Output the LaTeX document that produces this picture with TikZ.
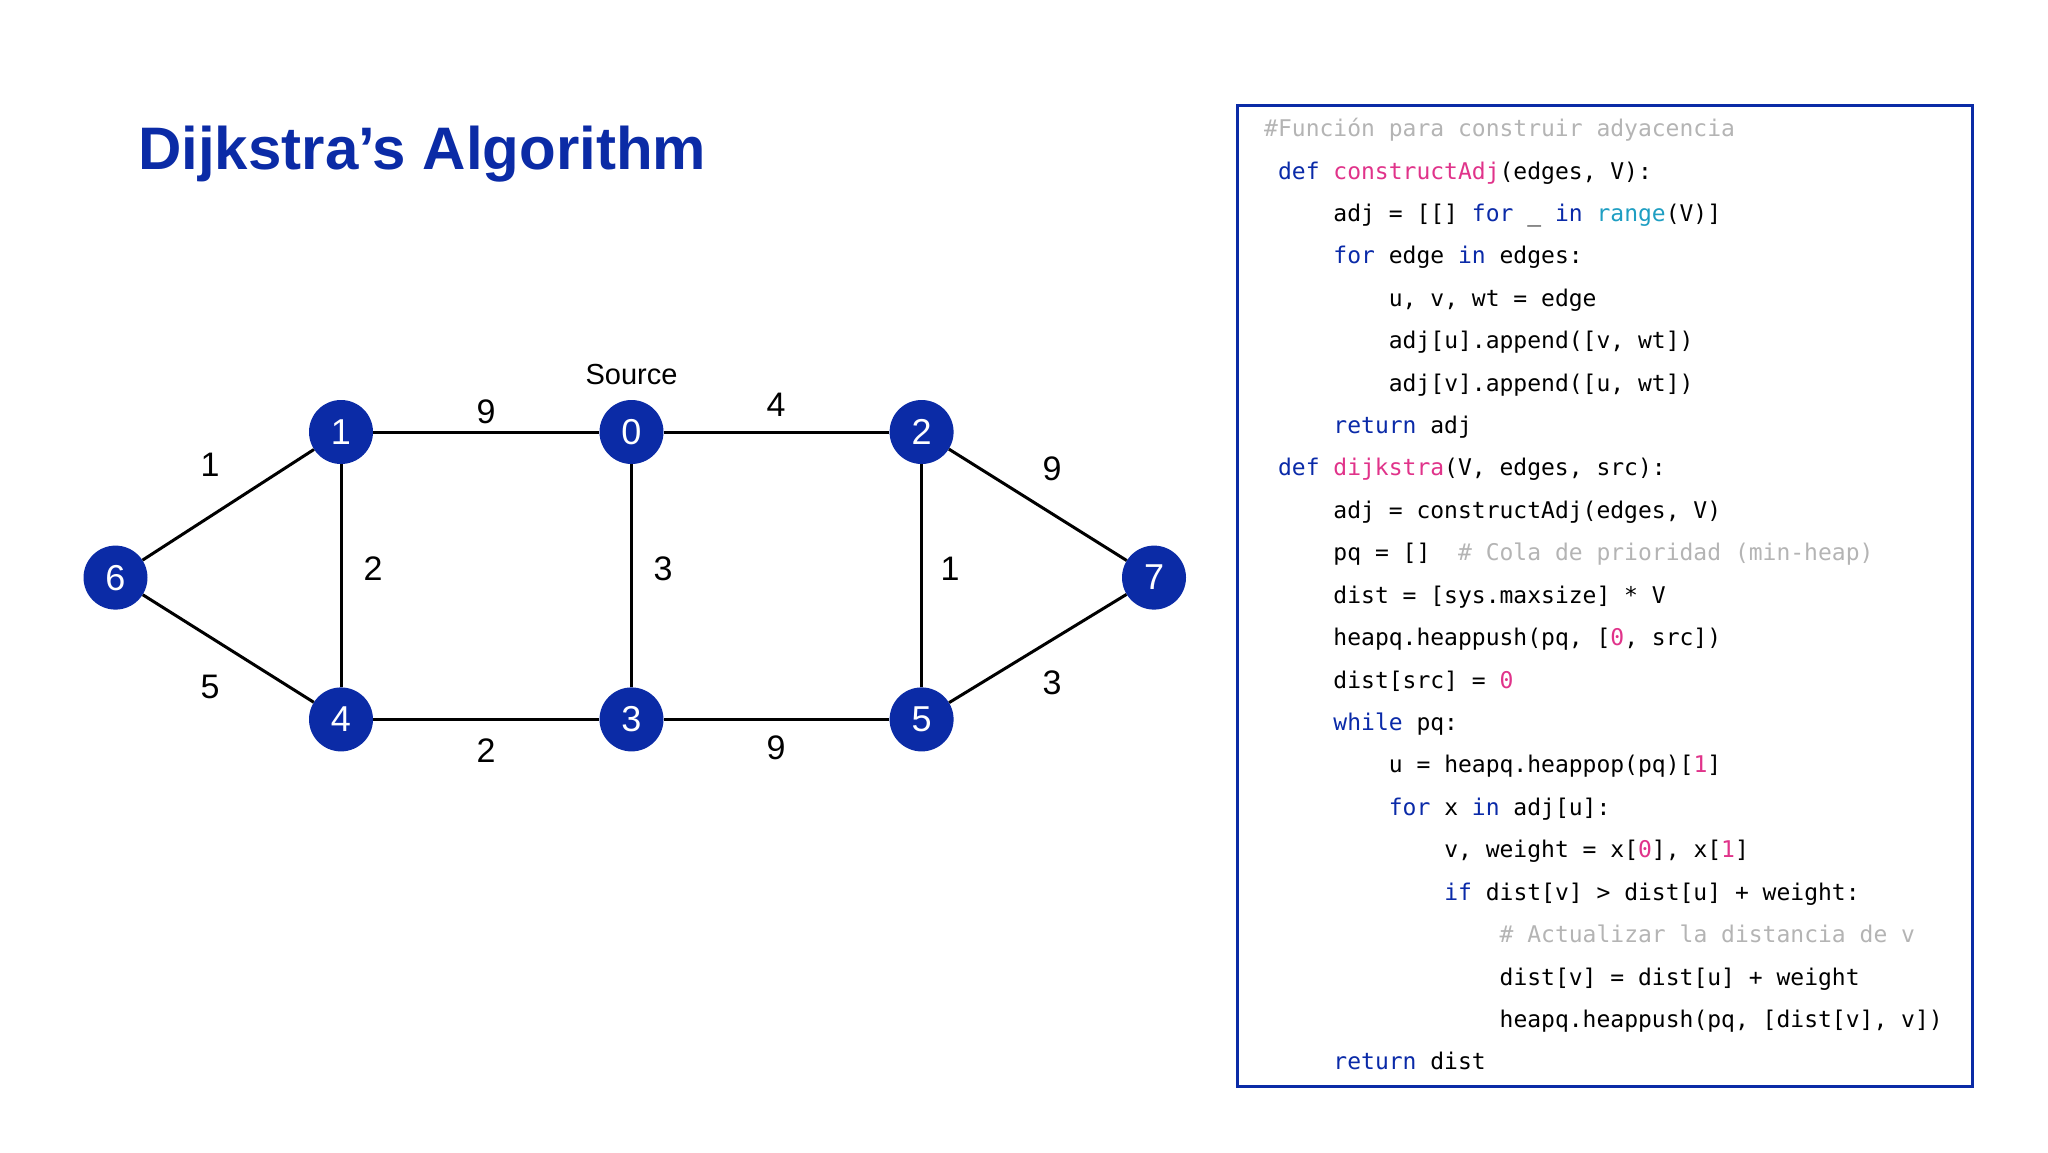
\documentclass[tikz,border=0pt]{standalone}
\usepackage{fontspec}
\setmainfont{Liberation Sans}
\newfontfamily\codefont{DejaVu Sans Mono}
\definecolor{blu}{HTML}{0B2BA6}
\definecolor{ckwc}{HTML}{0A2AA8}
\definecolor{cfnc}{HTML}{E0338A}
\definecolor{crgc}{HTML}{1E9EC2}
\definecolor{ccmc}{HTML}{B4B4B4}
\newcommand\ckw[1]{\textcolor{ckwc}{#1}}
\newcommand\cfn[1]{\textcolor{cfnc}{#1}}
\newcommand\crg[1]{\textcolor{crgc}{#1}}
\newcommand\ccm[1]{\textcolor{ccmc}{#1}}
\begin{document}
\begin{tikzpicture}[x=1pt,y=-1pt,
  vtx/.style={circle,fill=blu,minimum size=64pt,inner sep=0pt,text=white,font=\fontsize{36}{40}\selectfont},
  wlab/.style={font=\fontsize{34}{38}\selectfont},
  edge/.style={line width=3pt},
  codeln/.style={anchor=base west,inner sep=0pt,font=\codefont\fontsize{23}{26}\selectfont}]
\useasboundingbox (0,0) rectangle (2048,1152);
\node[anchor=west,inner sep=0pt,text=blu] (title) at (138,154) {\resizebox{568pt}{!}{\bfseries Dijkstra's Algorithm}};
% graph
\node[vtx] (n1) at (341,432) {1};
\node[vtx] (n0) at (631.5,432) {0};
\node[vtx] (n2) at (921.6,432) {2};
\node[vtx] (n6) at (115.5,577.6) {6};
\node[vtx] (n7) at (1154,577.6) {7};
\node[vtx] (n4) at (341,719.4) {4};
\node[vtx] (n3) at (631.5,719.4) {3};
\node[vtx] (n5) at (921.6,719.4) {5};
\node[font=\fontsize{29}{32}\selectfont] (src) at (631.5,375) {Source};
\begin{scope}[on background layer/.style={}]
\draw[edge] (n1) -- (n0);
\draw[edge] (n0) -- (n2);
\draw[edge] (n6) -- (n1);
\draw[edge] (n6) -- (n4);
\draw[edge] (n1) -- (n4);
\draw[edge] (n0) -- (n3);
\draw[edge] (n2) -- (n5);
\draw[edge] (n2) -- (n7);
\draw[edge] (n5) -- (n7);
\draw[edge] (n4) -- (n3);
\draw[edge] (n3) -- (n5);
\end{scope}
\node[wlab] (l10) at (486,412) {9};
\node[wlab] (l02) at (776,405) {4};
\node[wlab] (l61) at (210,465) {1};
\node[wlab] (l64) at (210,687) {5};
\node[wlab] (l14) at (373,569) {2};
\node[wlab] (l03) at (663,569) {3};
\node[wlab] (l25) at (950,569) {1};
\node[wlab] (l27) at (1052,469) {9};
\node[wlab] (l57) at (1052,683) {3};
\node[wlab] (l43) at (486,751) {2};
\node[wlab] (l35) at (776,748) {9};
% code box
\draw[blu,line width=3pt] (1237,105) rectangle (1972,1086);
\def\cx#1{1264+#1*13.85}
\def\cy#1{136.6+#1*42.42}
\node[codeln] (c0) at ({\cx{0}},{\cy{0}}) {\ccm{\#Función para construir adyacencia}};
\node[codeln] (c1) at ({\cx{1}},{\cy{1}}) {\ckw{def} \cfn{constructAdj}(edges, V):};
\node[codeln] (c2) at ({\cx{5}},{\cy{2}}) {adj = [[] \ckw{for} \_ \ckw{in} \crg{range}(V)]};
\node[codeln] (c3) at ({\cx{5}},{\cy{3}}) {\ckw{for} edge \ckw{in} edges:};
\node[codeln] (c4) at ({\cx{9}},{\cy{4}}) {u, v, wt = edge};
\node[codeln] (c5) at ({\cx{9}},{\cy{5}}) {adj[u].append([v, wt])};
\node[codeln] (c6) at ({\cx{9}},{\cy{6}}) {adj[v].append([u, wt])};
\node[codeln] (c7) at ({\cx{5}},{\cy{7}}) {\ckw{return} adj};
\node[codeln] (c8) at ({\cx{1}},{\cy{8}}) {\ckw{def} \cfn{dijkstra}(V, edges, src):};
\node[codeln] (c9) at ({\cx{5}},{\cy{9}}) {adj = constructAdj(edges, V)};
\node[codeln] (c10) at ({\cx{5}},{\cy{10}}) {pq = []\ \ \ccm{\# Cola de prioridad (min-heap)}};
\node[codeln] (c11) at ({\cx{5}},{\cy{11}}) {dist = [sys.maxsize] * V};
\node[codeln] (c12) at ({\cx{5}},{\cy{12}}) {heapq.heappush(pq, [\cfn{0}, src])};
\node[codeln] (c13) at ({\cx{5}},{\cy{13}}) {dist[src] = \cfn{0}};
\node[codeln] (c14) at ({\cx{5}},{\cy{14}}) {\ckw{while} pq:};
\node[codeln] (c15) at ({\cx{9}},{\cy{15}}) {u = heapq.heappop(pq)[\cfn{1}]};
\node[codeln] (c16) at ({\cx{9}},{\cy{16}}) {\ckw{for} x \ckw{in} adj[u]:};
\node[codeln] (c17) at ({\cx{13}},{\cy{17}}) {v, weight = x[\cfn{0}], x[\cfn{1}]};
\node[codeln] (c18) at ({\cx{13}},{\cy{18}}) {\ckw{if} dist[v] > dist[u] + weight:};
\node[codeln] (c19) at ({\cx{17}},{\cy{19}}) {\ccm{\# Actualizar la distancia de v}};
\node[codeln] (c20) at ({\cx{17}},{\cy{20}}) {dist[v] = dist[u] + weight};
\node[codeln] (c21) at ({\cx{17}},{\cy{21}}) {heapq.heappush(pq, [dist[v], v])};
\node[codeln] (c22) at ({\cx{5}},{\cy{22}}) {\ckw{return} dist};
\end{tikzpicture}
\end{document}
